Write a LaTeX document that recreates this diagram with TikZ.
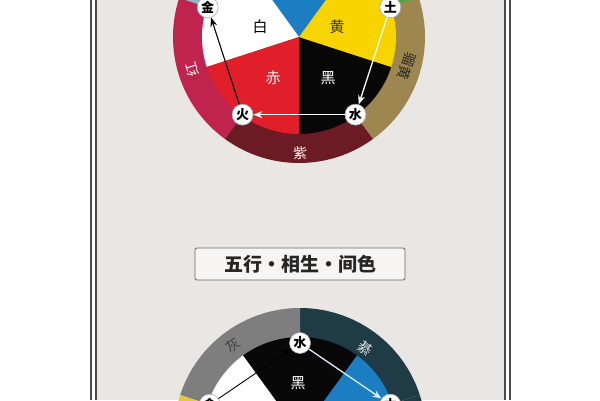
\documentclass[tikz,border=0pt]{standalone}
\usepackage{fontspec}
\setmainfont{Noto Sans CJK SC}
\usetikzlibrary{arrows.meta}
\definecolor{panelbg}{HTML}{E9E6E3}
\definecolor{framegray}{HTML}{4A4A4A}
\definecolor{biring}{HTML}{8FB6C8}
\definecolor{hongring}{HTML}{C0234E}
\definecolor{ziring}{HTML}{6C1B25}
\definecolor{liuring}{HTML}{9E8650}
\definecolor{lvring}{HTML}{5AA23C}
\definecolor{qing}{HTML}{1B7DC2}
\definecolor{chi}{HTML}{E01F2B}
\definecolor{huang}{HTML}{F7D300}
\definecolor{hei}{HTML}{080808}
\definecolor{huiring}{HTML}{7E7E7E}
\definecolor{qiring}{HTML}{1F3B45}
\definecolor{xiangring}{HTML}{E6C83A}
\newcommand\pieseg[5]{\fill[#5] (#1) -- ++(#2:#4) arc[start angle=#2,end angle=#3,radius=#4] -- cycle;}
\begin{document}
\begin{tikzpicture}[x=1pt,y=1pt,
  elem/.style={circle,draw=gray!70,line width=0.6pt,fill=white,minimum size=21pt,inner sep=0pt,
    font=\fontsize{13}{13}\selectfont\bfseries,text=black},
  lbl/.style={inner sep=0pt,font=\fontsize{15}{15}\selectfont},
  ringlbl/.style={inner sep=0pt,font=\fontsize{14}{14}\selectfont},
  warrow/.style={draw=white,line width=1.3pt,-{Stealth[length=9pt,width=7pt]}},
  karrow/.style={draw=black,line width=1.1pt,-{Stealth[length=9pt,width=7pt]}},
  titlebox/.style={draw=gray!80!black,line width=0.8pt,fill=white!60!panelbg,rounded corners=2pt,
    minimum width=210pt,minimum height=32pt,inner sep=0pt,text=black!85,
    font=\fontsize{19}{19}\selectfont\bfseries}
]
\useasboundingbox (0,0) rectangle (600,400);
\fill[white] (0,0) rectangle (600,400);
\fill[panelbg] (97,0) rectangle (504,400);
\draw[framegray,line width=2pt] (90.5,0) -- (90.5,400);
\draw[framegray,line width=2pt] (95.5,0) -- (95.5,400);
\draw[framegray,line width=2pt] (505,0) -- (505,400);
\draw[framegray,line width=2pt] (509.5,0) -- (509.5,400);

% ---------- top wheel ----------
\coordinate (T) at (299,363);
\pieseg{T}{90}{162}{126pt}{biring}
\pieseg{T}{162}{234}{126pt}{hongring}
\pieseg{T}{234}{306}{126pt}{ziring}
\pieseg{T}{306}{378}{126pt}{liuring}
\pieseg{T}{18}{90}{126pt}{lvring}
\pieseg{T}{54}{126}{97pt}{qing}
\pieseg{T}{126}{198}{97pt}{white}
\pieseg{T}{198}{270}{97pt}{chi}
\pieseg{T}{270}{342}{97pt}{hei}
\pieseg{T}{342}{414}{97pt}{huang}

\node[lbl,text=black] (bai) at (260,373) {白};
\node[lbl,text=black!80] (huangl) at (337,373) {黄};
\node[lbl,text=white!85!pink] (chil) at (273,322) {赤};
\node[lbl,text=white] (heil) at (328,322) {黑};
\node[ringlbl,text=white!90!pink] (zil) at (300,247) {紫};
\node[ringlbl,text=white!90!pink,rotate=108] (hongl) at (192,330) {红};
\node[ringlbl,text=black!85,rotate=-108] (liul) at (407,334) {骝黄};

\path (T) ++(18:96pt) node[elem] (tu) {土};
\path (T) ++(306:96pt) node[elem] (shui) {水};
\path (T) ++(234:96pt) node[elem] (huo) {火};
\path (T) ++(162:96pt) node[elem] (jin) {金};
\draw[warrow] (tu) -- (shui);
\draw[warrow] (shui) -- (huo);
\draw[karrow] (huo) -- (jin);

% ---------- title ----------
\node[titlebox] (title) at (300,136) {五行·相生·间色};

% ---------- bottom wheel ----------
\coordinate (B) at (300,-34);
\pieseg{B}{18}{90}{126pt}{qiring}
\pieseg{B}{90}{162}{126pt}{huiring}
\pieseg{B}{162}{234}{126pt}{xiangring}
\pieseg{B}{234}{306}{126pt}{qiring}
\pieseg{B}{306}{378}{126pt}{qiring}
\pieseg{B}{54}{126}{97pt}{hei}
\pieseg{B}{126}{198}{97pt}{white}
\pieseg{B}{342}{414}{97pt}{qing}

\node[ringlbl,text=black!75,rotate=36] (huil) at (233,55) {灰};
\node[ringlbl,text=white!75!gray,rotate=-36] (qil) at (365,52) {綦};
\node[lbl,text=white] (heib) at (298,17) {黑};

\path (B) ++(90:91pt) node[elem] (shuib) {水};
\path (B) ++(18:95pt) node[elem] (mub) {木};
\path (B) ++(162:95pt) node[elem] (jinb) {金};
\draw[warrow,draw=white!85!qing] (shuib) -- (mub);
\draw[karrow,line width=0.9pt] (jinb) -- (shuib);
\end{tikzpicture}
\end{document}
